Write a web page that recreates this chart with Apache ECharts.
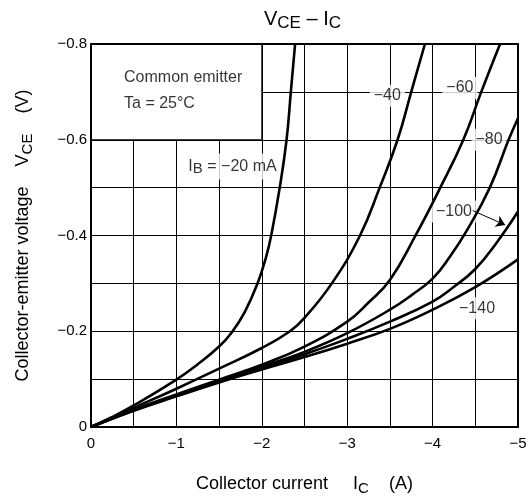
<!DOCTYPE html>
<html><head><meta charset="utf-8">
<script src="https://cdn.jsdelivr.net/npm/echarts@6/dist/echarts.min.js"></script>
<style>html,body{margin:0;padding:0;background:#fff}#c{width:532px;height:501px}</style>
</head><body><div id="c"></div>
<script>
const FONT = "'Liberation Sans', Arial, Helvetica, sans-serif";

// tick labels
const xTickLabels = ['0', '\u22121', '\u22122', '\u22123', '\u22124', '\u22125'];
const yTickLabels = ['0', '\u22120.2', '\u22120.4', '\u22120.6', '\u22120.8'];

// curves: collector current (A) and collector-emitter voltage (V)
const ib20_I  = [0, -0.25, -0.5, -1.0, -1.25, -1.5, -1.65, -1.8, -1.95, -2.05, -2.11, -2.21, -2.29, -2.34, -2.39];
const ib20_V  = [0, -0.021, -0.045, -0.099, -0.131, -0.168, -0.198, -0.24, -0.3, -0.355, -0.4, -0.5, -0.6, -0.7, -0.8];
const ib40_I  = [0, -0.5, -1.0, -1.5, -2.0, -2.33, -2.5, -2.82, -3.15, -3.38, -3.59, -3.75, -3.91];
const ib40_V  = [0, -0.04, -0.08, -0.122, -0.165, -0.2, -0.228, -0.3, -0.4, -0.5, -0.6, -0.7, -0.8];
const ib60_I  = [0, -0.5, -1.0, -1.5, -2.0, -2.5, -3.0, -3.25, -3.5, -3.8, -4.09, -4.36, -4.57, -4.79];
const ib60_V  = [0, -0.036, -0.068, -0.099, -0.13, -0.168, -0.22, -0.26, -0.307, -0.4, -0.5, -0.6, -0.7, -0.8];
const ib80_I  = [0, -0.5, -1.0, -1.5, -2.0, -2.5, -3.0, -3.5, -3.75, -4.0, -4.2, -4.4, -4.67, -4.89, -5.0];
const ib80_V  = [0, -0.035, -0.067, -0.097, -0.126, -0.157, -0.196, -0.245, -0.275, -0.31, -0.355, -0.41, -0.5, -0.6, -0.645];
const ib100_I = [0, -0.5, -1.0, -1.5, -2.0, -2.5, -3.0, -3.5, -4.0, -4.25, -4.5, -4.75, -5.0];
const ib100_V = [0, -0.035, -0.066, -0.096, -0.123, -0.152, -0.184, -0.22, -0.262, -0.293, -0.33, -0.385, -0.45];
const ib140_I = [0, -0.5, -1.0, -1.5, -2.0, -2.5, -3.0, -3.5, -4.0, -4.5, -5.0];
const ib140_V = [0, -0.034, -0.064, -0.093, -0.12, -0.146, -0.174, -0.205, -0.245, -0.292, -0.35];

const curveNames = ['IB -20', 'IB -40', 'IB -60', 'IB -80', 'IB -100', 'IB -140'];
const curveI = [ib20_I, ib40_I, ib60_I, ib80_I, ib100_I, ib140_I];
const curveV = [ib20_V, ib40_V, ib60_V, ib80_V, ib100_V, ib140_V];

// annotations (text, anchor in data coordinates)
const noteText = ['Common emitter', 'Ta = 25\u00b0C', '{m|I}{s|B}{m| = \u221220 mA}', '\u221240', '\u221260', '\u221280', '\u2212100', '\u2212140'];
const noteI = [-0.34, -0.34, -1.657, -3.47, -4.32, -4.66, -4.25, -4.52];
const noteV = [-0.729, -0.675, -0.544, -0.692, -0.708, -0.6, -0.45, -0.248];
const noteLeft = [true, true, false, false, false, false, false, false];
const noteSize = [16, 16, 16, 16, 16, 16, 16, 16];
const arrowFrom = [-4.47, -0.452];
const arrowTo = [-4.85, -0.422];
const boxFrom = [0, -0.6];
const boxTo = [-2, -0.8];

const chart = echarts.init(document.getElementById('c'), null, {renderer: 'canvas'});

const subRich = (m, s) => ({
  m: {fontSize: m, fontFamily: FONT, fontWeight: 'normal', color: '#000', lineHeight: Math.round(m * 1.25)},
  s: {fontSize: s, fontFamily: FONT, fontWeight: 'normal', color: '#000', lineHeight: s, verticalAlign: 'bottom'}
});

const borderLine = {show: true, onZero: false, lineStyle: {color: '#000', width: 2}};

const curveSeries = curveI.map((I, k) => ({
  name: curveNames[k],
  type: 'line',
  z: 3,
  data: I.map((x, i) => [x, curveV[k][i]]),
  showSymbol: false,
  smooth: 0.45,
  lineStyle: {color: '#000', width: 2.6},
  itemStyle: {color: '#000'},
  silent: true
}));

const noteData = noteText.map((t, i) => ({
  value: [noteI[i], noteV[i]],
  label: {
    show: true,
    formatter: t,
    position: noteLeft[i] ? 'right' : 'inside',
    distance: 0,
    fontSize: noteSize[i],
    fontFamily: FONT,
    fontWeight: 'normal',
    color: '#000',
    textBorderWidth: 0,
    backgroundColor: '#fff',
    padding: [3, 4],
    rich: subRich(noteSize[i], noteSize[i] - 1)
  }
}));

chart.setOption({
  animation: false,
  backgroundColor: '#fff',
  title: {
    text: '{m|V}{s|CE}{m| \u2013 I}{s|C}',
    left: 264, top: 7, padding: 0,
    textStyle: {fontWeight: 'normal', rich: subRich(20, 17)}
  },
  grid: {left: 91, right: 14, top: 44, bottom: 73, containLabel: false},
  xAxis: [{
    type: 'value', min: -5, max: 0, interval: 0.5, inverse: true, position: 'bottom',
    axisLine: borderLine, axisTick: {show: false},
    axisLabel: {
      fontSize: 15, fontFamily: FONT, color: '#000', margin: 9,
      formatter: v => { const k = Math.round(-v * 2); return k % 2 === 0 ? xTickLabels[k / 2] : ''; }
    },
    splitLine: {show: true, lineStyle: {color: '#000', width: 1}},
    name: '{m|Collector current     I}{s|C}{m|    (A)}',
    nameLocation: 'middle', nameGap: 46,
    nameTextStyle: {rich: subRich(18, 15)}
  }, {
    type: 'value', min: -5, max: 0, inverse: true, position: 'top', z: 10,
    axisLine: borderLine, axisTick: {show: false}, axisLabel: {show: false}, splitLine: {show: false}
  }],
  yAxis: [{
    type: 'value', min: -0.8, max: 0, interval: 0.1, inverse: true, position: 'left',
    axisLine: borderLine, axisTick: {show: false},
    axisLabel: {
      fontSize: 15, fontFamily: FONT, color: '#000', margin: 4,
      formatter: v => { const k = Math.round(-v * 10); return k % 2 === 0 ? yTickLabels[k / 2] : ''; }
    },
    splitLine: {show: true, lineStyle: {color: '#000', width: 1}},
    name: '{m|Collector-emitter voltage    V}{s|CE}{m|    (V)}',
    nameLocation: 'middle', nameGap: 56,
    nameTextStyle: {rich: subRich(18, 15)}
  }, {
    type: 'value', min: -0.8, max: 0, inverse: true, position: 'right', z: 10,
    axisLine: borderLine, axisTick: {show: false}, axisLabel: {show: false}, splitLine: {show: false}
  }, {
    type: 'value', min: -0.8, max: 0, inverse: true, position: 'left', z: 10,
    axisLine: borderLine, axisTick: {show: false}, axisLabel: {show: false}, splitLine: {show: false}
  }],
  series: [{
    name: 'box',
    type: 'line',
    data: [],
    silent: true,
    markArea: {
      silent: true,
      itemStyle: {color: '#fff', borderColor: '#000', borderWidth: 1},
      data: [[{coord: boxFrom}, {coord: boxTo}]]
    }
  }].concat(curveSeries).concat([{
    name: 'notes',
    type: 'scatter',
    z: 2,
    symbolSize: 0,
    silent: true,
    data: noteData,
    markLine: {
      silent: true,
      symbol: ['none', 'arrow'],
      symbolSize: 9,
      label: {show: false},
      lineStyle: {color: '#000', width: 1, type: 'solid'},
      data: [[{coord: arrowFrom}, {coord: arrowTo}]]
    }
  }])
});
</script>
</body></html>
